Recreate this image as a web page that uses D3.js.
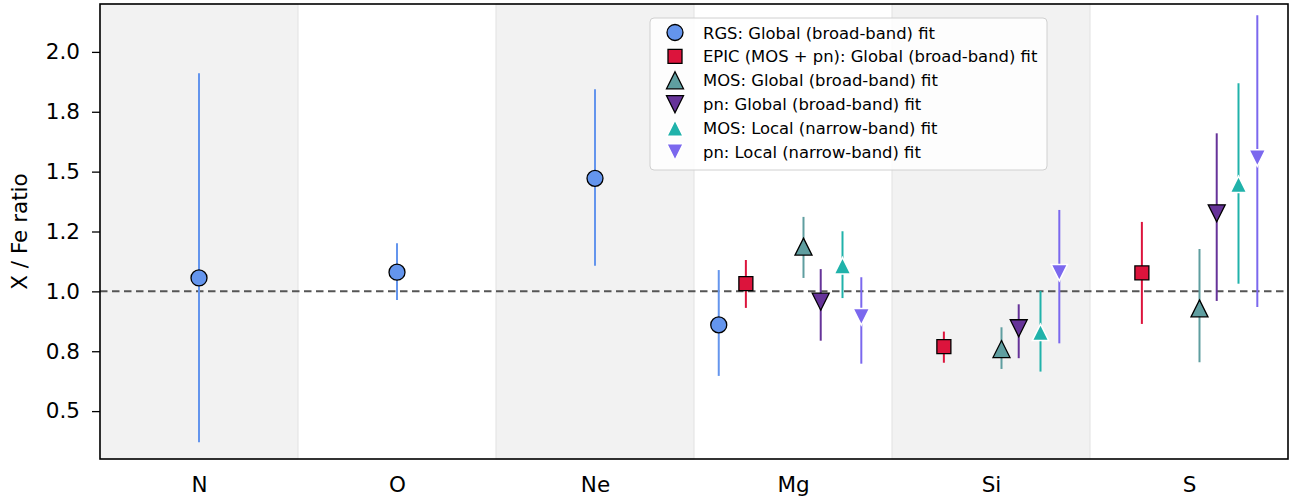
<!DOCTYPE html>
<html>
<head>
<meta charset="utf-8">
<script src="https://cdn.jsdelivr.net/npm/d3@7"></script>
<style>
  body { margin: 0; background: #fff; }
  text { font-family: "DejaVu Sans", sans-serif; }
</style>
</head>
<body>
<div id="chart"></div>
<script>
// ---------------- data ----------------
var elements = ["N", "O", "Ne", "Mg", "Si", "S"];
var shaded = ["N", "Ne", "Si"];

var yTicks = [0.5, 0.75, 1.0, 1.25, 1.5, 1.75, 2.0];
var yTickLabels = ["0.5", "0.8", "1.0", "1.2", "1.5", "1.8", "2.0"];

// value, lower bound, upper bound per element (null = not measured)
var rgsVal = [1.056, 1.080, 1.472, 0.860, null, null];
var rgsLo  = [0.370, 0.964, 1.107, 0.647, null, null];
var rgsHi  = [1.911, 1.201, 1.844, 1.089, null, null];

var epicVal = [null, null, null, 1.032, 0.769, 1.077];
var epicLo  = [null, null, null, 0.931, 0.702, 0.864];
var epicHi  = [null, null, null, 1.131, 0.832, 1.290];

var mosGVal = [null, null, null, 1.187, 0.759, 0.929];
var mosGLo  = [null, null, null, 1.056, 0.676, 0.704];
var mosGHi  = [null, null, null, 1.311, 0.850, 1.177];

var pnGVal = [null, null, null, 0.957, 0.846, 1.326];
var pnGLo  = [null, null, null, 0.794, 0.721, 0.960];
var pnGHi  = [null, null, null, 1.093, 0.946, 1.660];

var mosLVal = [null, null, null, 1.107, 0.829, 1.447];
var mosLLo  = [null, null, null, 0.972, 0.665, 1.032];
var mosLHi  = [null, null, null, 1.251, 1.002, 1.869];

var pnLVal = [null, null, null, 0.894, 1.078, 1.557];
var pnLLo  = [null, null, null, 0.698, 0.783, 0.935];
var pnLHi  = [null, null, null, 1.059, 1.340, 2.153];

// ---------------- series styling ----------------
var series = [
  { label: "RGS: Global (broad-band) fit", val: rgsVal, lo: rgsLo, hi: rgsHi,
    color: "#6495ED", shape: "circle", size: 16, edge: "#000", offset: -0.375 },
  { label: "EPIC (MOS + pn): Global (broad-band) fit", val: epicVal, lo: epicLo, hi: epicHi,
    color: "#DC143C", shape: "square", size: 14, edge: "#000", offset: -0.238 },
  { label: "MOS: Global (broad-band) fit", val: mosGVal, lo: mosGLo, hi: mosGHi,
    color: "#5F9EA0", shape: "up", size: 17, edge: "#000", offset: 0.053 },
  { label: "pn: Global (broad-band) fit", val: pnGVal, lo: pnGLo, hi: pnGHi,
    color: "#663399", shape: "down", size: 17, edge: "#000", offset: 0.14 },
  { label: "MOS: Local (narrow-band) fit", val: mosLVal, lo: mosLLo, hi: mosLHi,
    color: "#20B2AA", shape: "up", size: 16.5, edge: "#fff", offset: 0.25 },
  { label: "pn: Local (narrow-band) fit", val: pnLVal, lo: pnLLo, hi: pnLHi,
    color: "#7B68EE", shape: "down", size: 16.5, edge: "#fff", offset: 0.345 }
];

// how many series are measured for each element (single ones sit centred)
var nMeasured = elements.map(function(el, i) {
  return series.filter(function(s) { return s.val[i] != null; }).length;
});

// ---------------- layout ----------------
var width = 1298, height = 500;
var plot = { left: 100, right: 1288, top: 4, bottom: 459 };

var x = d3.scaleLinear().domain([-0.5, elements.length - 0.5]).range([plot.left, plot.right]);
var y = d3.scaleLinear().domain([0.3, 2.2]).range([plot.bottom, plot.top]);

var svg = d3.select("#chart").append("svg")
  .attr("width", width)
  .attr("height", height);

// shaded bands
elements.forEach(function(el, i) {
  if (shaded.indexOf(el) < 0) return;
  svg.append("rect")
    .attr("x", x(i - 0.5))
    .attr("y", plot.top)
    .attr("width", x(i + 0.5) - x(i - 0.5))
    .attr("height", plot.bottom - plot.top)
    .attr("fill", "#f2f2f2")
    .attr("stroke", "#e2e2e2")
    .attr("stroke-width", 1);
});

// reference line at 1
svg.append("line")
  .attr("x1", plot.left).attr("x2", plot.right)
  .attr("y1", y(1)).attr("y2", y(1))
  .attr("stroke", "#555")
  .attr("stroke-width", 2)
  .attr("stroke-dasharray", "7.5,4.5");

function markerPath(shape, s) {
  var h = s / 2;
  if (shape === "circle") return d3.symbol().type(d3.symbolCircle).size(Math.PI * h * h)();
  if (shape === "square") return "M" + (-h) + "," + (-h) + "H" + h + "V" + h + "H" + (-h) + "Z";
  if (shape === "up") return "M0," + (-h) + "L" + h + "," + h + "L" + (-h) + "," + h + "Z";
  return "M0," + h + "L" + h + "," + (-h) + "L" + (-h) + "," + (-h) + "Z";
}

// error bars + markers
series.forEach(function(s) {
  var pts = [];
  s.val.forEach(function(v, i) {
    if (v != null) pts.push({ i: i, v: v, lo: s.lo[i], hi: s.hi[i],
                              off: nMeasured[i] > 1 ? s.offset : 0 });
  });
  var g = svg.append("g");
  g.selectAll("line.err").data(pts).enter().append("line")
    .attr("class", "err")
    .attr("x1", function(d) { return x(d.i + d.off); })
    .attr("x2", function(d) { return x(d.i + d.off); })
    .attr("y1", function(d) { return y(d.lo); })
    .attr("y2", function(d) { return y(d.hi); })
    .attr("stroke", s.color)
    .attr("stroke-width", 2);
  g.selectAll("path.mk").data(pts).enter().append("path")
    .attr("class", "mk")
    .attr("transform", function(d) { return "translate(" + x(d.i + d.off) + "," + y(d.v) + ")"; })
    .attr("d", markerPath(s.shape, s.size))
    .attr("fill", s.color)
    .attr("stroke", s.edge)
    .attr("stroke-width", s.edge === "#fff" ? 1.5 : 1.3);
});

// axes
var yAxis = d3.axisLeft(y)
  .tickValues(yTicks)
  .tickFormat(function(d, i) { return yTickLabels[i]; })
  .tickSize(8)
  .tickPadding(12);
var gy = svg.append("g")
  .attr("transform", "translate(" + plot.left + ",0)")
  .call(yAxis);
gy.select(".domain").remove();
gy.selectAll(".tick line").attr("stroke", "#000").attr("stroke-width", 1.3);
gy.selectAll(".tick text").attr("font-size", 21.5).attr("fill", "#000")
  .style("font-family", "DejaVu Sans, sans-serif");

var xAxis = d3.axisBottom(x)
  .tickValues(d3.range(elements.length))
  .tickFormat(function(d) { return elements[d]; })
  .tickSize(0)
  .tickPadding(18);
var gx = svg.append("g")
  .attr("transform", "translate(0," + plot.bottom + ")")
  .call(xAxis);
gx.select(".domain").remove();
gx.selectAll(".tick text").attr("font-size", 21.5).attr("fill", "#000")
  .style("font-family", "DejaVu Sans, sans-serif");

// frame
svg.append("rect")
  .attr("x", plot.left).attr("y", plot.top)
  .attr("width", plot.right - plot.left)
  .attr("height", plot.bottom - plot.top)
  .attr("fill", "none")
  .attr("stroke", "#000")
  .attr("stroke-width", 1.6);

// y label
svg.append("text")
  .attr("transform", "translate(27," + ((plot.top + plot.bottom) / 2) + ") rotate(-90)")
  .attr("text-anchor", "middle")
  .attr("font-size", 21.5)
  .text("X / Fe ratio");

// legend
var legend = svg.append("g").attr("transform", "translate(650,18)");
legend.append("rect")
  .attr("width", 397).attr("height", 152)
  .attr("rx", 4)
  .attr("fill", "#fff").attr("fill-opacity", 0.85)
  .attr("stroke", "#d0d0d0");
series.forEach(function(s, k) {
  var row = legend.append("g").attr("transform", "translate(0," + (14.5 + k * 23.9) + ")");
  row.append("path")
    .attr("transform", "translate(25,0)")
    .attr("d", markerPath(s.shape, s.size))
    .attr("fill", s.color)
    .attr("stroke", s.edge)
    .attr("stroke-width", s.edge === "#fff" ? 1.5 : 1.3);
  row.append("text")
    .attr("x", 53).attr("y", 6)
    .attr("font-size", 16.4)
    .text(s.label);
});
</script>
</body>
</html>
